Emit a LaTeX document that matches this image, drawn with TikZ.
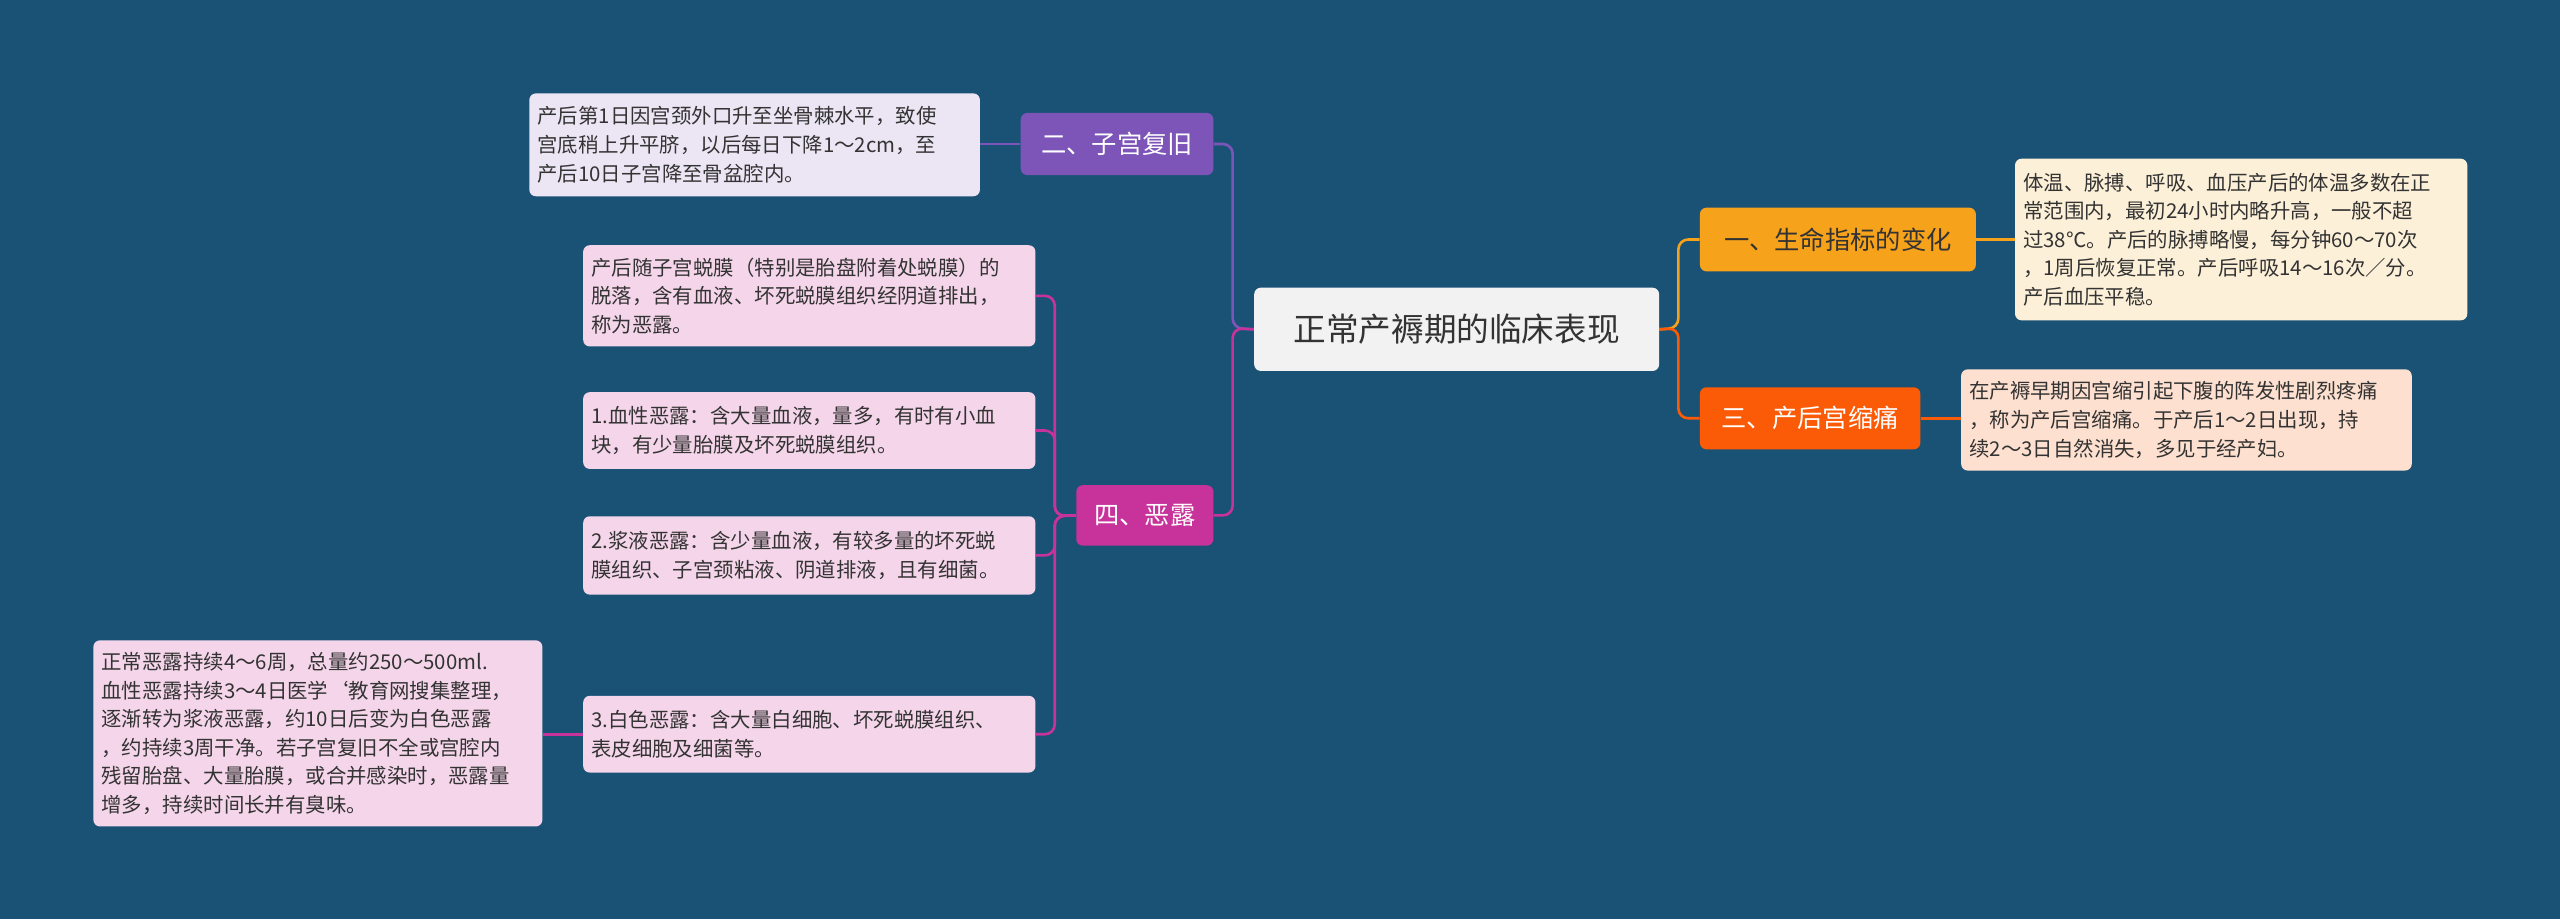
\documentclass[tikz,border=0pt]{standalone}
\usepackage{fontspec}
\setmainfont{Noto Sans CJK SC}
\definecolor{bg}{HTML}{1A5276}
\definecolor{cY}{HTML}{F7A21B}
\definecolor{cO}{HTML}{FB5A06}
\definecolor{cP}{HTML}{7D55B8}
\definecolor{cM}{HTML}{C7339A}
\definecolor{dY}{HTML}{FDF0D8}
\definecolor{dO}{HTML}{FDE0D0}
\definecolor{dP}{HTML}{EBE5F4}
\definecolor{dM}{HTML}{F4D5EA}
\definecolor{txt}{HTML}{333333}
\tikzset{
 box/.style={rounded corners=4pt, inner sep=0pt, anchor=north west},
 detail/.style={box, font=\fontsize{12.5}{17.5}\selectfont, text=txt, align=left, inner xsep=6pt},
 topic/.style={box, font=\fontsize{15.5}{18}\selectfont, text=white, align=center},
 link/.style={line width=1.6pt, rounded corners=6pt},
}
\begin{document}
\begin{tikzpicture}[x=1pt,y=-1pt]
\fill[bg] (0,0) rectangle (1568,563);
\useasboundingbox (0,0) rectangle (1568,563);
% root
\node[box, fill=black!5, minimum width=248pt, minimum height=51pt, font=\fontsize{20}{24}\selectfont, text=txt] (root) at (768,176) {正常产褥期的临床表现};
% right topics
\node[topic, fill=cY, text=txt, minimum width=169pt, minimum height=39pt] (n1) at (1041,127) {一、生命指标的变化};
\node[topic, fill=cO, minimum width=135pt, minimum height=38pt] (n3) at (1041,237) {三、产后宫缩痛};
\node[detail, fill=dY, minimum width=277pt, minimum height=99pt, text width=267pt, inner xsep=5pt] (d1) at (1234,97) {体温、脉搏、呼吸、血压产后的体温多数在正\\常范围内，最初24小时内略升高，一般不超\\过38℃。产后的脉搏略慢，每分钟60～70次\\，1周后恢复正常。产后呼吸14～16次／分。\\产后血压平稳。};
\node[detail, fill=dO, minimum width=276pt, minimum height=62pt, text width=266pt, inner xsep=5pt] (d3) at (1201,226) {在产褥早期因宫缩引起下腹的阵发性剧烈疼痛\\，称为产后宫缩痛。于产后1～2日出现，持\\续2～3日自然消失，多见于经产妇。};
% left topics
\node[topic, fill=cP, minimum width=118pt, minimum height=38pt] (n2) at (625,69) {二、子宫复旧};
\node[topic, fill=cM, minimum width=84pt, minimum height=37pt] (n4) at (659,297) {四、恶露};
\node[detail, fill=dP, minimum width=276pt, minimum height=63pt, text width=266pt, inner xsep=5pt] (d2) at (324,57) {产后第1日因宫颈外口升至坐骨棘水平，致使\\宫底稍上升平脐，以后每日下降1～2cm，至\\产后10日子宫降至骨盆腔内。};
\node[detail, fill=dM, minimum width=277pt, minimum height=62pt, text width=267pt, inner xsep=5pt] (a) at (357,150) {产后随子宫蜕膜（特别是胎盘附着处蜕膜）的\\脱落，含有血液、坏死蜕膜组织经阴道排出，\\称为恶露。};
\node[detail, fill=dM, minimum width=277pt, minimum height=47pt, text width=267pt, inner xsep=5pt] (b) at (357,240) {1.血性恶露：含大量血液，量多，有时有小血\\块，有少量胎膜及坏死蜕膜组织。};
\node[detail, fill=dM, minimum width=277pt, minimum height=48pt, text width=267pt, inner xsep=5pt] (c) at (357,316) {2.浆液恶露：含少量血液，有较多量的坏死蜕\\膜组织、子宫颈粘液、阴道排液，且有细菌。};
\node[detail, fill=dM, minimum width=277pt, minimum height=47pt, text width=267pt, inner xsep=5pt] (d) at (357,426) {3.白色恶露：含大量白细胞、坏死蜕膜组织、\\表皮细胞及细菌等。};
\node[detail, fill=dM, minimum width=275pt, minimum height=114pt, text width=265pt, inner xsep=5pt] (e) at (57,392) {正常恶露持续4～6周，总量约250～500ml.\\血性恶露持续3～4日医学`教育网搜集整理，\\逐渐转为浆液恶露，约10日后变为白色恶露\\，约持续3周干净。若子宫复旧不全或宫腔内\\残留胎盘、大量胎膜，或合并感染时，恶露量\\增多，持续时间长并有臭味。};
% connectors
\coordinate (sR) at (1028,201);
\coordinate (sL) at (755,201);
\coordinate (s4) at (646,316);
\draw[link, cY] (root.east) -- (sR) |- (n1.west);
\draw[link, cO] (root.east) -- (sR) |- (n3.west);
\draw[link, cP] (root.west) -- (sL) |- (n2.east);
\draw[link, cM] (root.west) -- (sL) |- (n4.east);
\draw[link, cY] (n1.east) -- (d1.west |- n1.east);
\draw[link, cO] (n3.east) -- (d3.west |- n3.east);
\draw[link, cP] (n2.west) -- (d2.east |- n2.west);
\foreach \t in {a,b,c,d}{\draw[link, cM] (n4.west) -- (s4) |- (\t.east);}
\draw[link, cM] (d.west) -- (e.east |- d.west);
\end{tikzpicture}
\end{document}
